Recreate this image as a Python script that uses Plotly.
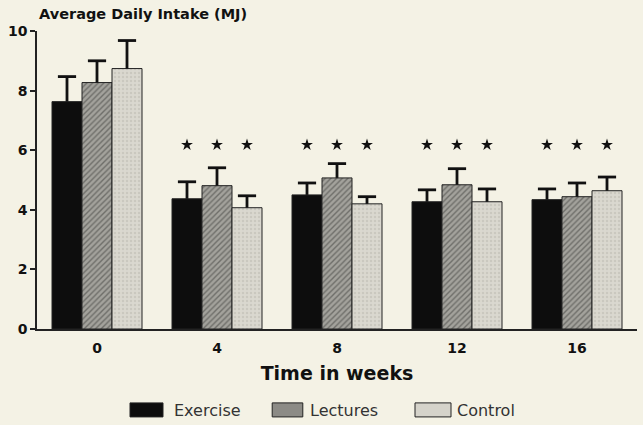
import plotly.graph_objects as go

weeks = ["0", "4", "8", "12", "16"]
series_names = ["Exercise", "Lectures", "Control"]
exercise = [7.63, 4.37, 4.50, 4.27, 4.34]
exercise_err = [0.84, 0.57, 0.40, 0.40, 0.36]
lectures = [8.27, 4.81, 5.07, 4.84, 4.44]
lectures_err = [0.73, 0.60, 0.48, 0.54, 0.46]
control = [8.74, 4.07, 4.20, 4.27, 4.64]
control_err = [0.94, 0.40, 0.24, 0.43, 0.46]
star_groups = [1, 2, 3, 4]
star_level = 6.18
y_ticks = [0, 2, 4, 6, 8, 10]

BG = "#f4f2e5"
x_idx = list(range(len(weeks)))
offsets = [-0.25, 0.0, 0.25]

fig = go.Figure()
styles = [
    dict(color="#0d0d0d", pattern=None),
    dict(color="#8c8b86", pattern=dict(shape="/", fgcolor="#3a3a38", bgcolor="#a3a29c", size=4, solidity=0.35)),
    dict(color="#d5d3ca", pattern=dict(shape=".", fgcolor="#b9b7ae", bgcolor="#dad8cf", size=4, solidity=0.3)),
]
all_vals = [exercise, lectures, control]
all_errs = [exercise_err, lectures_err, control_err]
for name, vals, errs, st in zip(series_names, all_vals, all_errs, styles):
    marker = dict(color=st["color"], line=dict(color="#222", width=1))
    if st["pattern"]:
        marker["pattern"] = st["pattern"]
    fig.add_trace(go.Bar(
        x=x_idx, y=vals, name=name, marker=marker,
        error_y=dict(type="data", symmetric=False, array=errs,
                     arrayminus=[0] * len(errs), color="#111",
                     thickness=2.8, width=0),
        showlegend=False,
    ))

# error-bar caps (top only)
for vals, errs, off in zip(all_vals, all_errs, offsets):
    fig.add_trace(go.Scatter(
        x=[i + off for i in x_idx], y=[v + e for v, e in zip(vals, errs)],
        mode="markers",
        marker=dict(symbol="line-ew-open", size=13, color="#111",
                    line=dict(color="#111", width=2.8)),
        showlegend=False, hoverinfo="skip",
    ))

# significance stars above each bar of weeks 4-16
star_x = [g + o for g in star_groups for o in offsets]
fig.add_trace(go.Scatter(
    x=star_x, y=[star_level] * len(star_x), mode="markers",
    marker=dict(symbol="star", size=9, color="#111"),
    showlegend=False, hoverinfo="skip",
))

fig.update_layout(
    width=643, height=425,
    margin=dict(l=37, r=6, t=31, b=96),
    paper_bgcolor=BG, plot_bgcolor=BG,
    barmode="group", bargap=0.25, bargroupgap=0,
    font=dict(family="DejaVu Sans", color="#111"),
    xaxis=dict(
        range=[-0.5, 4.5], tickvals=x_idx, ticktext=weeks,
        showline=True, linecolor="#222", linewidth=1.5,
        showgrid=False, zeroline=False, ticks="", ticklabelstandoff=5,
        tickfont=dict(family="DejaVu Sans", size=14, color="#111", weight="bold"),
        title=dict(text="<b>Time in weeks</b>", font=dict(family="DejaVu Sans", size=19, color="#111"),
                   standoff=12),
    ),
    yaxis=dict(
        range=[0, 10], tickvals=y_ticks,
        showline=True, linecolor="#222", linewidth=1.5,
        showgrid=False, zeroline=False,
        ticks="outside", ticklen=5, tickwidth=1.5, tickcolor="#222",
        tickfont=dict(family="DejaVu Sans", size=14, color="#111", weight="bold"),
    ),
    showlegend=False,
)

fig.add_annotation(
    text="<b>Average Daily Intake (MJ)</b>", xref="paper", yref="paper",
    x=0.0, y=1.0, xanchor="left", yanchor="bottom", yshift=7,
    showarrow=False, font=dict(family="DejaVu Sans", size=14.5, color="#111"),
)

# custom legend
legend_items = [
    (series_names[0], 0.155, 0.210, 0.225),
    (series_names[1], 0.392, 0.443, 0.452),
    (series_names[2], 0.630, 0.690, 0.697),
]
for (name, x0, x1, tx), st in zip(legend_items, styles):
    shape = dict(type="rect", xref="paper", yref="paper", x0=x0, x1=x1,
                 y0=-0.295, y1=-0.248, fillcolor=st["color"],
                 line=dict(color="#222", width=1))
    fig.add_shape(**shape)
    fig.add_annotation(
        text=name, xref="paper", yref="paper", x=tx, y=-0.272,
        xanchor="left", yanchor="middle", showarrow=False,
        font=dict(family="DejaVu Sans", size=16, color="#333"),
    )

fig.write_html(
    "out.html",
    config={"displayModeBar": False},
    post_script="document.body.style.margin='0';document.body.style.background='%s';" % BG,
)
